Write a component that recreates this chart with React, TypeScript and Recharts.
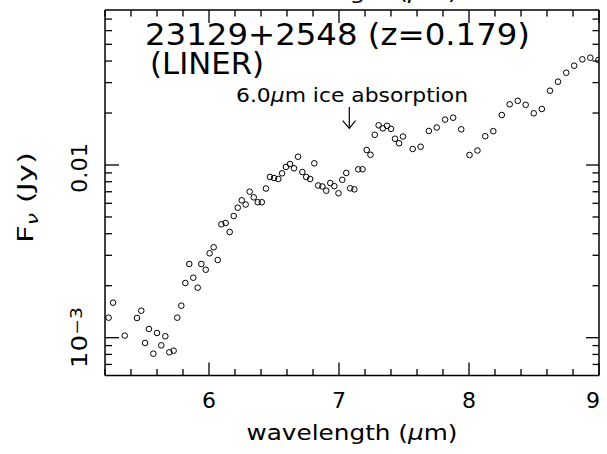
import React from "react";
import { ScatterChart, Scatter, XAxis, YAxis } from "recharts";

const FONT = "DejaVu Sans";

const wavelength = [
  5.228, 5.262, 5.352, 5.446, 5.479, 5.508, 5.538, 5.572, 5.6, 5.633,
  5.664, 5.695, 5.728, 5.756, 5.787, 5.818, 5.848, 5.879, 5.913, 5.941,
  5.975, 6.005, 6.036, 6.067, 6.095, 6.128, 6.159, 6.19, 6.221, 6.252,
  6.282, 6.313, 6.344, 6.375, 6.406, 6.438, 6.469, 6.5, 6.533, 6.562,
  6.592, 6.623, 6.654, 6.685, 6.718, 6.748, 6.778, 6.81, 6.84, 6.872,
  6.902, 6.933, 6.964, 6.996, 7.025, 7.056, 7.086, 7.118, 7.148, 7.181,
  7.213, 7.242, 7.275, 7.305, 7.337, 7.369, 7.4, 7.431, 7.462, 7.492,
  7.567, 7.628, 7.691, 7.752, 7.816, 7.878, 7.94, 8.004, 8.065, 8.125,
  8.187, 8.252, 8.313, 8.375, 8.436, 8.498, 8.56, 8.623, 8.685, 8.748,
  8.809, 8.872, 8.933, 8.995,
];

const fluxJy = [
  1.306e-3, 1.595e-3, 1.028e-3, 1.3e-3, 1.433e-3, 9.32e-4, 1.123e-3, 8.08e-4, 1.065e-3, 9.03e-4,
  1.019e-3, 8.23e-4, 8.41e-4, 1.306e-3, 1.532e-3, 2.073e-3, 2.672e-3, 2.225e-3, 1.948e-3, 2.672e-3,
  2.475e-3, 3.081e-3, 3.338e-3, 2.818e-3, 4.536e-3, 4.616e-3, 4.093e-3, 5.067e-3, 5.66e-3, 6.246e-3,
  5.906e-3, 7.006e-3, 6.501e-3, 6.089e-3, 6.089e-3, 7.31e-3, 8.52e-3, 8.41e-3, 8.3e-3, 8.95e-3,
  9.74e-3, 1.013e-2, 9.57e-3, 1.117e-2, 9.11e-3, 8.52e-3, 8.3e-3, 1.023e-2, 7.61e-3, 7.51e-3,
  7.1e-3, 7.86e-3, 7.54e-3, 6.86e-3, 8.21e-3, 8.99e-3, 7.33e-3, 7.23e-3, 9.44e-3, 9.45e-3,
  1.221e-2, 1.146e-2, 1.496e-2, 1.698e-2, 1.631e-2, 1.687e-2, 1.62e-2, 1.42e-2, 1.336e-2, 1.462e-2,
  1.238e-2, 1.276e-2, 1.574e-2, 1.649e-2, 1.832e-2, 1.879e-2, 1.609e-2, 1.143e-2, 1.213e-2, 1.468e-2,
  1.57e-2, 1.948e-2, 2.246e-2, 2.353e-2, 2.231e-2, 1.993e-2, 2.11e-2, 2.693e-2, 3.036e-2, 3.423e-2,
  3.758e-2, 4.093e-2, 4.182e-2, 4.055e-2,
];

const xTicks = [
  5.2, 5.4, 5.6, 5.8, 6, 6.2, 6.4, 6.6, 6.8, 7, 7.2, 7.4, 7.6, 7.8, 8, 8.2, 8.4, 8.6, 8.8, 9,
];
const xTickLabels = ["6", "7", "8", "9"];

const yTicks = [
  0.0007, 0.0008, 0.0009, 0.001, 0.002, 0.003, 0.004, 0.005, 0.006, 0.007, 0.008, 0.009,
  0.01, 0.02, 0.03, 0.04, 0.05, 0.06, 0.07,
];

const X_DOMAIN = [5.2, 9];
const Y_DOMAIN = [0.000604, 0.079];

const points = wavelength.map((w, i) => ({ x: w, y: fluxJy[i] }));

const isInt = (v: number) => Math.abs(v - Math.round(v)) < 1e-6;
const isDecade = (v: number) => isInt(Math.log10(v));

const TW = 1.3;

const BottomTick = (props: any) => {
  const { x, y, payload } = props;
  const v = payload.value;
  const major = isInt(v);
  const label = xTickLabels.find((s) => Number(s) === Math.round(v));
  const last = Math.round(v) === 9;
  return (
    <g>
      <line x1={x} y1={y} x2={x} y2={y - (major ? 13 : 6.5)} stroke="#000" strokeWidth={TW} />
      {major && label && (
        <text
          x={last ? x - 6 : x}
          y={y + 32.5}
          textAnchor="middle"
          fontSize={21}
          fontFamily={FONT}
          fill="#000"
          textLength={14}
          lengthAdjust="spacingAndGlyphs"
        >
          {label}
        </text>
      )}
    </g>
  );
};

const TopTick = (props: any) => {
  const { x, y, payload } = props;
  const major = isInt(payload.value);
  return <line x1={x} y1={y} x2={x} y2={y + (major ? 13 : 6.5)} stroke="#000" strokeWidth={TW} />;
};

const LeftTick = (props: any) => {
  const { x, y, payload } = props;
  const v = payload.value;
  const major = isDecade(v);
  const lx = x - 18;
  const exp = Math.round(Math.log10(v));
  const ty = exp === -2 ? y + 3 : y;
  return (
    <g>
      <line x1={x} y1={y} x2={x + (major ? 14 : 7)} y2={y} stroke="#000" strokeWidth={TW} />
      {major && (
        <text
          x={lx}
          y={ty}
          transform={`rotate(-90 ${lx} ${ty})`}
          textAnchor="middle"
          fontSize={21}
          fontFamily={FONT}
          fill="#000"
          textLength={exp === -2 ? 50 : 61}
          lengthAdjust="spacingAndGlyphs"
        >
          {exp === -2 ? (
            "0.01"
          ) : (
            <>
              10
              <tspan dy={-5} fontSize={15}>
                {"\u2212" + Math.abs(exp)}
              </tspan>
            </>
          )}
        </text>
      )}
    </g>
  );
};

const RightTick = (props: any) => {
  const { x, y, payload } = props;
  const major = isDecade(payload.value);
  return <line x1={x} y1={y} x2={x - (major ? 13 : 6.5)} y2={y} stroke="#000" strokeWidth={TW} />;
};

const Circle = (props: any) => (
  <circle cx={props.cx} cy={props.cy} r={2.8} fill="none" stroke="#000" strokeWidth={1} />
);

const App: React.FC = () => {
  const axisLine = { stroke: "#000", strokeWidth: 1.5 };
  return (
    <div style={{ position: "absolute", left: 0, top: 0, width: 607, height: 454, background: "#fff" }}>
      <ScatterChart width={607} height={454} margin={{ top: 9, right: 7, bottom: 77.5, left: 104 }}>
        <XAxis
          xAxisId="b"
          dataKey="x"
          type="number"
          domain={X_DOMAIN}
          allowDataOverflow
          ticks={xTicks}
          interval={0}
          height={1}
          tickSize={0}
          tickMargin={0}
          tickLine={false}
          axisLine={axisLine}
          tick={<BottomTick />}
        />
        <XAxis
          xAxisId="t"
          orientation="top"
          dataKey="x"
          type="number"
          domain={X_DOMAIN}
          allowDataOverflow
          ticks={xTicks}
          interval={0}
          height={1}
          tickSize={0}
          tickMargin={0}
          tickLine={false}
          axisLine={axisLine}
          tick={<TopTick />}
        />
        <YAxis
          yAxisId="l"
          dataKey="y"
          type="number"
          scale="log"
          domain={Y_DOMAIN}
          allowDataOverflow
          ticks={yTicks}
          interval={0}
          width={1}
          tickSize={0}
          tickMargin={0}
          tickLine={false}
          axisLine={axisLine}
          tick={<LeftTick />}
        />
        <YAxis
          yAxisId="r"
          orientation="right"
          dataKey="y"
          type="number"
          scale="log"
          domain={Y_DOMAIN}
          allowDataOverflow
          ticks={yTicks}
          interval={0}
          width={1}
          tickSize={0}
          tickMargin={0}
          tickLine={false}
          axisLine={axisLine}
          tick={<RightTick />}
        />
        <Scatter
          data={points}
          xAxisId="b"
          yAxisId="l"
          shape={<Circle />}
          isAnimationActive={false}
        />
      </ScatterChart>
      <svg
        width={607}
        height={454}
        style={{ position: "absolute", left: 0, top: 0, pointerEvents: "none" }}
        fontFamily={FONT}
        fill="#000"
      >
        <text x={352} y={-1} textAnchor="middle" fontSize={21} textLength={211} lengthAdjust="spacingAndGlyphs">
          wavelength (<tspan fontStyle="italic">μ</tspan>m)
        </text>
        <text x={352} y={440} textAnchor="middle" fontSize={21} textLength={211} lengthAdjust="spacingAndGlyphs">
          wavelength (<tspan fontStyle="italic">μ</tspan>m)
        </text>
        <text
          x={33}
          y={197.5}
          transform="rotate(-90 33 197.5)"
          textAnchor="middle"
          fontSize={21}
          textLength={91}
          lengthAdjust="spacingAndGlyphs"
        >
          F
          <tspan dy={5} fontSize={15} fontStyle="italic">
            ν
          </tspan>
          <tspan dy={-5}> (Jy)</tspan>
        </text>
        <text x={145} y={45} fontSize={31} textLength={385} lengthAdjust="spacingAndGlyphs">
          23129+2548 (z=0.179)
        </text>
        <text x={150} y={74} fontSize={31} textLength={114} lengthAdjust="spacingAndGlyphs">
          (LINER)
        </text>
        <text x={236} y={101.5} fontSize={20} textLength={232} lengthAdjust="spacingAndGlyphs">
          6.0<tspan fontStyle="italic">μ</tspan>m ice absorption
        </text>
        <g stroke="#000" strokeWidth={1.2} fill="none">
          <line x1={349.3} y1={107} x2={349.3} y2={128.3} />
          <polyline points="342.7,120.7 349.3,128.3 355.5,120.7" />
        </g>
      </svg>
    </div>
  );
};

export default App;
